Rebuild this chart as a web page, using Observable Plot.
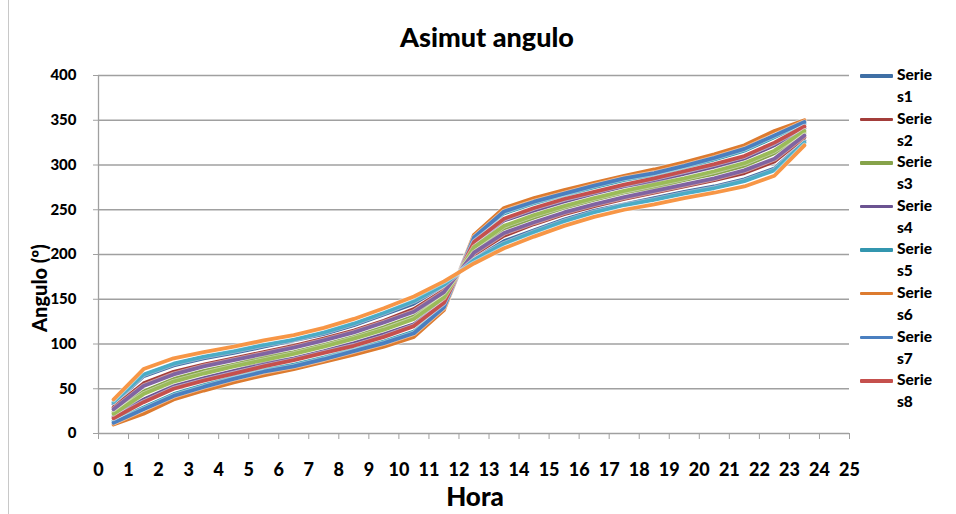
<!DOCTYPE html>
<html><head><meta charset="utf-8">
<script src="https://cdn.jsdelivr.net/npm/d3@7"></script>
<script src="https://cdn.jsdelivr.net/npm/@observablehq/plot@0.6"></script>
<style>
body{margin:0;background:#fff;font-family:Lato,"Open Sans",sans-serif;}
#wrap{position:relative;width:956px;height:514px;overflow:hidden;}
#border{position:absolute;left:8px;top:0;width:1px;height:514px;background:#c8c8c8;}
#title{position:absolute;left:0;width:974px;top:20px;text-align:center;font-weight:900;font-size:27px;color:#000;}
#xlab{position:absolute;left:0;width:950px;top:480px;text-align:center;font-weight:900;font-size:26px;}
#ylab{position:absolute;left:39px;top:288px;transform:translate(-50%,-50%) rotate(-90deg);font-weight:900;font-size:20px;white-space:nowrap;}
#legend{position:absolute;left:860px;top:63px;}
.li{position:relative;height:43.6px;}
.sw{position:absolute;left:0;top:11px;width:33px;height:3.5px;border-radius:1px;}
.lt{position:absolute;left:37px;top:0;font-weight:900;font-size:15.5px;line-height:22px;}
svg{position:absolute;left:0;top:0;}
</style></head>
<body><div id="wrap"><div id="border"></div><div id="chart"></div>
<div id="title">Asimut angulo</div>
<div id="ylab">Angulo (º)</div>
<div id="xlab">Hora</div>
<div id="legend"></div></div>
<script>
const hours = [0.5,1.5,2.5,3.5,4.5,5.5,6.5,7.5,8.5,9.5,10.5,11.5,12.5,13.5,14.5,15.5,16.5,17.5,18.5,19.5,20.5,21.5,22.5,23.5];
const xTicks = [0,1,2,3,4,5,6,7,8,9,10,11,12,13,14,15,16,17,18,19,20,21,22,23,24,25];
const yTicks = [0,50,100,150,200,250,300,350,400];
const seriesNames = ["Series1","Series2","Series3","Series4","Series5","Series6","Series7","Series8","Series9","Series10","Series11","Series12"];
const legendLabels = [["Serie","s1"],["Serie","s2"],["Serie","s3"],["Serie","s4"],["Serie","s5"],["Serie","s6"],["Serie","s7"],["Serie","s8"]];
const colors = ["#3F6FA5","#A33D3A","#86A34A","#6B5391","#3396AF","#DD7B2F","#4A7FC0","#C5504D","#9BBB59","#8064A2","#4BACC6","#F79646"];

const serie1  = [33,64,76,84,90,97,104,111,121,133,145,165,195,215,227,239,249,256,263,270,276,284,296,327];
const serie2  = [29,56,69,77,84,91,98,106,115,126,139,160,200,221,234,245,254,262,269,276,283,291,304,331];
const serie3  = [24,47,61,70,77,85,91,99,108,119,131,154,206,229,241,252,261,269,275,283,290,299,313,336];
const serie4  = [19,38,53,62,70,78,84,92,101,111,122,148,212,238,249,259,268,276,282,290,298,307,322,341];
const serie5  = [14,29,44,54,63,71,77,85,94,103,114,142,218,246,257,266,275,283,289,297,306,316,331,346];
const serie6  = [10,22,38,48,57,65,72,80,88,97,108,138,222,252,263,272,280,288,295,303,312,322,338,350];
const serie7  = [12,27,42,52,61,69,75,83,92,101,112,141,219,248,259,268,277,285,291,299,308,318,333,348];
const serie8  = [17,35,50,59,67,75,82,90,98,108,120,146,214,240,252,262,270,278,285,293,301,310,325,343];
const serie9  = [22,44,58,67,75,82,89,97,106,116,128,152,208,232,244,254,263,271,278,285,293,302,316,338];
const serie10 = [27,53,66,75,82,89,96,104,113,124,136,158,202,224,236,247,256,264,271,278,285,294,307,333];
const serie11 = [35,66,78,86,92,99,105,113,123,135,148,166,194,212,225,237,247,255,261,268,274,282,294,325];
const serie12 = [38,72,84,91,97,104,110,118,128,140,153,170,190,207,220,232,242,250,256,263,269,276,288,322];
const allSeries = [serie1,serie2,serie3,serie4,serie5,serie6,serie7,serie8,serie9,serie10,serie11,serie12];

const marks = [
  Plot.ruleY(yTicks.filter(d=>d>0), {x1:0, x2:25, stroke:"#a0a0a0", strokeWidth:1.3}),
  Plot.axisY({ticks:yTicks, tickSize:5, tickPadding:17, fontSize:15, fontWeight:900, stroke:"#a0a0a0", label:null}),
  Plot.axisX({ticks:xTicks, tickSize:6, tickPadding:24, fontSize:18, fontWeight:900, stroke:"#a0a0a0", label:null}),
  Plot.ruleX([0], {y1:0, y2:400, stroke:"#a0a0a0", strokeWidth:1.3}),
  Plot.ruleY([0], {x1:0, x2:25, stroke:"#a0a0a0", strokeWidth:1.3})
];
allSeries.forEach((vals, i) => {
  const data = hours.map((h, j) => ({h, v: vals[j]}));
  marks.push(Plot.line(data, {x:"h", y:"v", stroke:"#ffffff", strokeOpacity:0.5, strokeWidth:5.5}));
  marks.push(Plot.line(data, {x:"h", y:"v", stroke:colors[i], strokeWidth:3.8}));
});

const chart = Plot.plot({
  width:956, height:514,
  marginLeft:98, marginTop:75, marginBottom:81, marginRight:107,
  style:{fontFamily:"Lato, 'Open Sans', sans-serif", color:"#000", background:"transparent"},
  x:{domain:[0,25]},
  y:{domain:[0,400]},
  marks
});
document.getElementById("chart").appendChild(chart);

const leg = document.getElementById("legend");
legendLabels.forEach((lab, i) => {
  const d = document.createElement("div"); d.className = "li";
  const s = document.createElement("div"); s.className = "sw"; s.style.background = colors[i];
  const t = document.createElement("div"); t.className = "lt"; t.innerHTML = lab[0] + "<br>" + lab[1];
  d.appendChild(s); d.appendChild(t); leg.appendChild(d);
});
</script></body></html>
